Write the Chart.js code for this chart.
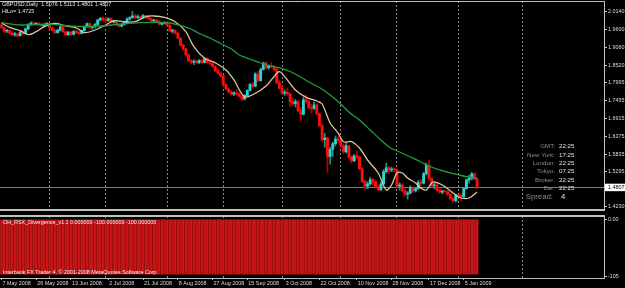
<!DOCTYPE html>
<html><head><meta charset="utf-8">
<script src="https://cdn.jsdelivr.net/npm/chart.js@4.4.0/dist/chart.umd.min.js"></script>
<style>
html,body{margin:0;padding:0;background:#000;width:625px;height:288px;overflow:hidden}
#a{position:absolute;left:0;top:0}
#b{position:absolute;left:0;top:213px}
</style></head><body>
<canvas id="a" width="625" height="212"></canvas>
<canvas id="b" width="625" height="75"></canvas>
<script>
// ---------- DATA ----------
const opens = [1.9740,1.9670,1.9560,1.9580,1.9500,1.9450,1.9480,1.9420,1.9530,1.9480,1.9630,1.9760,1.9800,1.9770,1.9790,1.9760,1.9720,1.9770,
1.9790,1.9660,1.9580,1.9510,1.9590,1.9690,1.9540,1.9450,1.9530,1.9460,1.9550,1.9510,1.9490,1.9580,1.9700,1.9790,1.9670,1.9690,1.9760,1.9900,1.9950,
1.9910,1.9880,1.9940,1.9830,1.9840,1.9760,1.9710,1.9770,1.9830,1.9930,1.9970,2.0020,1.9970,2.0000,1.9960,2.0030,1.9990,1.9940,1.9870,1.9890,1.9850,1.9770,1.9800,
1.9820,1.9740,1.9560,1.9580,1.9500,1.9350,1.9140,1.9020,1.8840,1.8660,1.8620,1.8650,1.8600,1.8670,1.8610,1.8730,1.8610,1.8580,1.8490,1.8360,1.8280,
1.8200,1.7940,1.7810,1.7720,1.7650,1.7690,1.7650,1.7580,1.7500,1.7610,1.7760,1.7940,1.7890,1.8260,1.8060,1.8400,1.8590,1.8450,1.8510,1.8480,1.8400,1.8000,
1.7830,1.7680,1.7700,1.7660,1.7420,1.7360,1.7420,1.7150,1.7040,1.7480,1.7420,1.7250,1.7220,1.7320,1.7060,1.6700,1.6270,1.6320,1.5760,1.5980,1.6150,1.6290,1.6250,
1.6080,1.5900,1.6090,1.5750,1.5630,1.5780,1.5750,1.5390,1.5000,1.4860,1.4930,1.5060,1.4990,1.4840,1.4760,1.4930,1.5300,1.5420,1.5350,1.5380,
1.5360,1.4860,1.4900,1.4720,1.4620,1.4650,1.4820,1.4720,1.4790,1.4980,1.4950,1.5240,1.5490,1.5090,1.4870,1.4900,1.4730,1.4680,1.4700,1.4690,1.4610,1.4490,1.4420,
1.4590,1.4580,1.4540,1.4790,1.5050,1.5100,1.5230,1.5076];
const highs = [1.9770,1.9690,1.9610,1.9600,1.9540,1.9520,1.9500,1.9560,1.9580,1.9660,1.9790,1.9850,1.9860,1.9820,1.9830,1.9800,1.9790,1.9820,
1.9800,1.9690,1.9620,1.9620,1.9720,1.9700,1.9560,1.9560,1.9560,1.9580,1.9600,1.9560,1.9600,1.9720,1.9810,1.9810,1.9720,1.9800,1.9920,1.9980,1.9990,
1.9950,1.9970,1.9960,1.9870,1.9860,1.9780,1.9800,1.9860,1.9960,2.0000,2.0158,2.0080,2.0060,2.0030,2.0070,2.0040,2.0050,1.9960,1.9920,1.9930,1.9880,1.9820,1.9850,
1.9860,1.9760,1.9620,1.9600,1.9520,1.9370,1.9160,1.9040,1.8880,1.8700,1.8700,1.8690,1.8700,1.8690,1.8760,1.8750,1.8640,1.8600,1.8510,1.8420,1.8320,
1.8220,1.7960,1.7840,1.7760,1.7720,1.7790,1.7700,1.7620,1.7640,1.7790,1.7980,1.8010,1.8300,1.8340,1.8450,1.8620,1.8640,1.8540,1.8600,1.8520,1.8430,1.8080,
1.7900,1.7780,1.7830,1.7680,1.7550,1.7490,1.7460,1.7250,1.7560,1.7620,1.7480,1.7340,1.7420,1.7360,1.7080,1.6740,1.6460,1.6350,1.6050,1.6200,1.6380,1.6380,1.6280,
1.6140,1.6180,1.6100,1.5790,1.5820,1.5920,1.5780,1.5420,1.5060,1.5000,1.5130,1.5090,1.5050,1.4900,1.5000,1.5370,1.5560,1.5460,1.5440,1.5420,
1.5380,1.4970,1.4940,1.4780,1.4700,1.4880,1.4850,1.4830,1.5040,1.5060,1.5280,1.5560,1.5640,1.5130,1.4950,1.4930,1.4780,1.4750,1.4720,1.4720,1.4640,1.4530,1.4620,
1.4610,1.4650,1.4830,1.5080,1.5200,1.5280,1.5270,1.5113];
const lows = [1.9640,1.9520,1.9510,1.9470,1.9420,1.9400,1.9380,1.9410,1.9450,1.9470,1.9600,1.9730,1.9740,1.9750,1.9730,1.9690,1.9680,1.9740,
1.9640,1.9560,1.9480,1.9500,1.9560,1.9520,1.9430,1.9430,1.9420,1.9440,1.9480,1.9460,1.9470,1.9560,1.9680,1.9640,1.9610,1.9660,1.9740,1.9880,1.9880,
1.9830,1.9860,1.9800,1.9800,1.9730,1.9680,1.9690,1.9740,1.9810,1.9890,1.9950,1.9940,1.9930,1.9920,1.9940,1.9940,1.9920,1.9840,1.9850,1.9820,1.9740,1.9740,1.9770,
1.9720,1.9540,1.9500,1.9470,1.9320,1.9100,1.8990,1.8800,1.8620,1.8560,1.8540,1.8570,1.8580,1.8580,1.8590,1.8590,1.8540,1.8460,1.8330,1.8250,1.8170,
1.7900,1.7780,1.7690,1.7620,1.7600,1.7620,1.7560,1.7460,1.7470,1.7590,1.7740,1.7830,1.7870,1.8020,1.8040,1.8380,1.8410,1.8400,1.8450,1.8350,1.7960,1.7800,
1.7650,1.7610,1.7620,1.7280,1.7300,1.7260,1.7110,1.6850,1.7020,1.7380,1.7200,1.7080,1.7180,1.7010,1.6660,1.6220,1.6040,1.5280,1.5530,1.5760,1.6080,1.6180,1.6030,
1.5850,1.5870,1.5700,1.5560,1.5600,1.5700,1.5360,1.4960,1.4750,1.4780,1.4880,1.4890,1.4800,1.4722,1.4720,1.4900,1.5250,1.5250,1.5300,1.5300,
1.4820,1.4740,1.4680,1.4560,1.4470,1.4620,1.4660,1.4680,1.4760,1.4880,1.4930,1.5200,1.5040,1.4830,1.4780,1.4700,1.4640,1.4620,1.4660,1.4580,1.4450,1.4350,1.4380,
1.4550,1.4400,1.4500,1.4760,1.4950,1.5050,1.5050,1.4801];
const closes = [1.9670,1.9560,1.9580,1.9500,1.9450,1.9480,1.9420,1.9530,1.9480,1.9630,1.9760,1.9800,1.9770,1.9790,1.9760,1.9720,1.9770,1.9790,
1.9660,1.9580,1.9510,1.9590,1.9690,1.9540,1.9450,1.9530,1.9460,1.9550,1.9510,1.9490,1.9580,1.9700,1.9790,1.9670,1.9690,1.9760,1.9900,1.9950,1.9910,
1.9880,1.9940,1.9830,1.9840,1.9760,1.9710,1.9770,1.9830,1.9930,1.9970,2.0020,1.9970,2.0000,1.9960,2.0030,1.9990,1.9940,1.9870,1.9890,1.9850,1.9770,1.9800,1.9820,
1.9740,1.9560,1.9580,1.9500,1.9350,1.9140,1.9020,1.8840,1.8660,1.8620,1.8650,1.8600,1.8670,1.8610,1.8730,1.8610,1.8580,1.8490,1.8360,1.8280,1.8200,
1.7940,1.7810,1.7720,1.7650,1.7690,1.7650,1.7580,1.7500,1.7610,1.7760,1.7940,1.7890,1.8260,1.8060,1.8400,1.8590,1.8450,1.8510,1.8480,1.8400,1.8000,1.7830,
1.7680,1.7700,1.7660,1.7420,1.7360,1.7420,1.7150,1.7040,1.7480,1.7420,1.7250,1.7220,1.7320,1.7060,1.6700,1.6270,1.6320,1.5760,1.5980,1.6150,1.6290,1.6250,1.6080,
1.5900,1.6090,1.5750,1.5630,1.5780,1.5750,1.5390,1.5000,1.4860,1.4930,1.5060,1.4990,1.4840,1.4760,1.4930,1.5300,1.5420,1.5350,1.5380,1.5360,
1.4860,1.4900,1.4720,1.4620,1.4650,1.4820,1.4720,1.4790,1.4980,1.4950,1.5240,1.5490,1.5090,1.4870,1.4900,1.4730,1.4680,1.4700,1.4690,1.4610,1.4490,1.4420,1.4590,
1.4580,1.4540,1.4790,1.5050,1.5100,1.5230,1.5080,1.4807];

// slow moving average (green), sampled at bar indices
const maSlowIdx = [0,7,18,29,37,44,52,59,63,67,71,74,78,82,86,89,93,97,100,104,108,112,115,119,123,127,130,134,138,142,145,149,153,157,160,164,168,172,175,178];
const maSlowVal = [1.9816,1.9746,1.9767,1.9700,1.9716,1.9767,1.9816,1.9828,1.9807,1.9731,1.9625,1.9488,1.9352,1.9185,1.9018,1.8837,1.8715,1.8594,1.8518,1.8443,
1.8336,1.8170,1.8018,1.7851,1.7624,1.7351,1.7109,1.6866,1.6563,1.6260,1.6048,1.5896,1.5745,1.5593,1.5472,1.5351,1.5260,1.5184,1.5138,1.5108];
// fast moving average (tan), sampled at bar indices
const maFastIdx = [0,3,7,10,13,16,20,24,28,31,35,39,42,46,50,54,57,61,65,69,72,76,80,84,87,91,95,99,102,104,106,110,114,118,120,123,126,128,131,134,137,141,144,146,148,150,152,155,157,159,161,162,165,169,172,175,178];
const maFastVal = [1.9807,1.9676,1.9573,1.9452,1.9543,1.9694,1.9797,1.9716,1.9655,1.9513,1.9594,1.9746,1.9876,1.9846,1.9846,1.9998,2.0019,1.9979,1.9846,1.9543,
1.9088,1.8737,1.8603,1.8382,1.8079,1.7573,1.7676,1.7897,1.8179,1.8330,1.8179,1.7776,1.7554,1.7442,1.7351,1.6776,1.6472,1.6209,1.6209,1.6018,
1.5654,1.5260,1.4744,1.4896,1.5260,1.5260,1.5108,1.4957,1.4800,1.4745,1.4957,1.4987,1.4896,1.4654,1.4502,1.4502,1.4684];

// indicator histogram (OH_RSX_Divergence), one value per bar
const rsxHist = [-100,-100,-100,-100,-100,-100,-100,-100,-100,-100,-100,-100,-100,-100,-100,-100,-100,-100,-100,-100,
-100,-100,-100,-100,-100,-100,-100,-100,-100,-100,-100,-100,-100,-100,-100,-100,-100,-100,-100,-100,
-100,-100,-100,-100,-100,-100,-100,-100,-100,-100,-100,-100,-100,-100,-100,-100,-100,-100,-100,-100,
-100,-100,-100,-100,-100,-100,-100,-100,-100,-100,-100,-100,-100,-100,-100,-100,-100,-100,-100,-100,
-100,-100,-100,-100,-100,-100,-100,-100,-100,-100,-100,-100,-100,-100,-100,-100,-100,-100,-100,-100,
-100,-100,-100,-100,-100,-100,-100,-100,-100,-100,-100,-100,-100,-100,-100,-100,-100,-100,-100,-100,
-100,-100,-100,-100,-100,-100,-100,-100,-100,-100,-100,-100,-100,-100,-100,-100,-100,-100,-100,-100,
-100,-100,-100,-100,-100,-100,-100,-100,-100,-100,-100,-100,-100,-100,-100,-100,-100,-100,-100,-100,
-100,-100,-100,-100,-100,-100,-100,-100,-100,-100,-100,-100,-100,-100,-100,-100,-100,-100,-100];

// axis ticks and labels
const priceTicks = [1.4230,1.5295,1.5835,1.6375,1.6915,1.7455,1.7995,1.8520,1.9060,1.9600,2.0140];
const lastPrice = 1.4807;
const dateTickIdx = [0,13,26,40,53,66,79,92,106,119,133,146,160,173];
const dateTickLabels = ['7 May 2008','26 May 2008','13 Jun 2008','2 Jul 2008','21 Jul 2008','8 Aug 2008','27 Aug 2008','15 Sep 2008','3 Oct 2008','22 Oct 2008','10 Nov 2008','28 Nov 2008','17 Dec 2008','5 Jan 2009'];
const monthGridIdx = [18,39,62,83,105,127,148,171,195];
const indTicks = [-105,0];

// texts
const headerLine1 = 'GBPUSD,Daily  1.5076 1.5113 1.4801 1.4807';
const headerLine2 = 'HiLo= 1.4725';
const infoLabels = ['GMT:','New York:','London:','Tokyo:','Broker:','Bar:'];
const infoValues = ['22:25','17:25','22:25','07:25','22:25','22:25'];
const spreadLabel = 'Spread:';
const spreadValue = '4';
const indTitle = 'OH_RSX_Divergence_v1.1 0.000000 -100.000000 -100.000000';
const copyright = 'Interbank FX Trader 4, \u00A9 2001-2008 MetaQuotes Software Corp.';

// ---------- CHART ----------
const FONT = "'Liberation Sans', Arial, sans-serif";
const X_MIN = -0.56, X_MAX = 225.5;
const idx = closes.map((_, i) => i);
const isUp = i => closes[i] >= opens[i];
const UP_BODY = '#2fd2cf', UP_WICK = '#1f8f95', DN_BODY = '#ff0c0c', DN_WICK = '#c00000';
const AXIS = '#c0c0c0';

function xAxes(withLabels) {
  return {
    x: {
      type: 'linear', position: 'bottom', min: X_MIN, max: X_MAX, offset: false,
      afterBuildTicks: s => { s.ticks = dateTickIdx.map(v => ({ value: v })); },
      ticks: {
        display: withLabels, autoSkip: false, maxRotation: 0, minRotation: 0, align: 'start',
        labelOffset: 1, padding: 0, color: '#dcdcdc', font: { family: FONT, size: 5.4 },
        callback: v => dateTickLabels[dateTickIdx.indexOf(v)]
      },
      grid: { offset: false, drawOnChartArea: false, drawTicks: withLabels, tickLength: 2, tickColor: AXIS },
      border: { color: AXIS, width: withLabels ? 1 : 2 },
      afterFit: s => { s.height = withLabels ? 10 : 0; s.paddingLeft = 0; s.paddingRight = 0; }
    },
    xg: {
      type: 'linear', position: 'bottom', min: X_MIN, max: X_MAX, offset: false,
      afterBuildTicks: s => { s.ticks = monthGridIdx.map(v => ({ value: v })); },
      ticks: { display: false },
      grid: { offset: false, color: '#8a8a8a', lineWidth: 1, drawTicks: false },
      border: { display: false, dash: [2, 2] },
      afterFit: s => { s.height = 0; s.paddingLeft = 0; s.paddingRight = 0; }
    },
    xt: {
      type: 'linear', position: 'top', min: X_MIN, max: X_MAX, offset: false,
      ticks: { display: false }, grid: { display: false, drawTicks: false },
      border: { color: AXIS, width: withLabels ? 2 : 1 },
      afterFit: s => { s.height = 0; s.paddingLeft = 0; s.paddingRight = 0; }
    }
  };
}

const overlayA = {
  id: 'overlayA',
  afterDraw(chart) {
    const c = chart.ctx;
    c.save();
    c.textBaseline = 'middle';
    c.textAlign = 'left';
    c.fillStyle = '#e6e6e6';
    c.font = '5.4px ' + FONT;
    c.fillText(headerLine1, 2, 5);
    c.fillText(headerLine2, 2, 11.5);
    c.font = '6.2px ' + FONT;
    infoLabels.forEach((t, k) => {
      const y = 146.7 + k * 8.3;
      c.textAlign = 'right'; c.fillStyle = '#8c8c8c'; c.fillText(t, 555, y);
      c.textAlign = 'left'; c.fillStyle = '#e0e0e0'; c.fillText(infoValues[k], 559, y);
    });
    c.font = '7.8px ' + FONT;
    c.textAlign = 'right'; c.fillStyle = '#8c8c8c'; c.fillText(spreadLabel, 553, 196.7);
    c.textAlign = 'left'; c.fillStyle = '#e0e0e0'; c.fillText(spreadValue, 561, 196.7);
    c.restore();
  }
};

new Chart(document.getElementById('a'), {
  type: 'bar',
  data: {
    datasets: [
      { type: 'line', data: maSlowIdx.map((x, k) => ({ x, y: maSlowVal[k] })), borderColor: '#259a3b', borderWidth: 1.3,
        pointRadius: 0, cubicInterpolationMode: 'monotone', order: 0, xAxisID: 'x', yAxisID: 'y' },
      { type: 'line', data: maFastIdx.map((x, k) => ({ x, y: maFastVal[k] })), borderColor: '#d8c798', borderWidth: 1.3,
        pointRadius: 0, tension: 0.35, order: 0, xAxisID: 'x', yAxisID: 'y' },
      { type: 'bar', data: idx.map(i => ({ x: i, y: [lows[i], highs[i]] })), backgroundColor: idx.map(i => isUp(i) ? UP_WICK : DN_WICK),
        barThickness: 1, grouped: false, order: 2, xAxisID: 'x', yAxisID: 'y' },
      { type: 'bar', data: idx.map(i => ({ x: i, y: [opens[i], closes[i]] })), backgroundColor: idx.map(i => isUp(i) ? UP_BODY : DN_BODY),
        barThickness: 2.2, minBarLength: 1, grouped: false, order: 1, xAxisID: 'x', yAxisID: 'y' }
    ]
  },
  options: {
    responsive: false, animation: false, devicePixelRatio: 1, events: [],
    layout: { padding: { left: 0, right: 0, top: 1, bottom: 2 }, autoPadding: false },
    plugins: { legend: { display: false }, tooltip: { enabled: false } },
    scales: Object.assign(xAxes(false), {
      y: {
        type: 'linear', position: 'right', min: 1.41382, max: 2.04734,
        afterBuildTicks: s => { s.ticks = priceTicks.concat([lastPrice]).sort((a, b) => a - b).map(v => ({ value: v })); },
        ticks: {
          autoSkip: false, padding: 1, font: { family: FONT, size: 5.4 },
          color: c => c.tick.value === lastPrice ? '#000000' : '#dcdcdc',
          showLabelBackdrop: true,
          backdropColor: c => c.tick.value === lastPrice ? '#ffffff' : 'rgba(0,0,0,0)',
          backdropPadding: { top: 1, bottom: 0, left: 3, right: 3 },
          callback: v => v.toFixed(4)
        },
        grid: { color: c => (c.tick && c.tick.value === lastPrice) ? '#6e7f90' : 'rgba(0,0,0,0)', tickColor: AXIS, tickLength: 3 },
        border: { color: AXIS },
        afterFit: s => { s.width = 21; s.paddingTop = 0; s.paddingBottom = 0; }
      }
    })
  },
  plugins: [overlayA]
});

const overlayB = {
  id: 'overlayB',
  afterDraw(chart) {
    const c = chart.ctx;
    c.save();
    c.textBaseline = 'middle'; c.textAlign = 'left';
    c.fillStyle = '#f0f0f0';
    c.font = '5.4px ' + FONT;
    c.fillText(indTitle, 3, 10);
    c.fillText(copyright, 3, 59.5);
    c.restore();
  }
};

new Chart(document.getElementById('b'), {
  type: 'bar',
  data: {
    datasets: [
      { type: 'bar', data: idx.map(i => ({ x: i, y: rsxHist[i] })), backgroundColor: '#c41616', barThickness: 2, grouped: false,
        xAxisID: 'x', yAxisID: 'y' }
    ]
  },
  options: {
    responsive: false, animation: false, devicePixelRatio: 1, events: [],
    layout: { padding: { left: 0, right: 0, top: 3, bottom: 0 }, autoPadding: false },
    plugins: { legend: { display: false }, tooltip: { enabled: false } },
    scales: Object.assign(xAxes(true), {
      y: {
        type: 'linear', position: 'right', min: -107, max: 6,
        afterBuildTicks: s => { s.ticks = indTicks.map(v => ({ value: v })); },
        ticks: { autoSkip: false, padding: 1, font: { family: FONT, size: 5.4 }, color: '#dcdcdc',
          callback: v => v === 0 ? '0.00' : String(v) },
        grid: { drawOnChartArea: false, tickColor: AXIS, tickLength: 3 },
        border: { color: AXIS },
        afterFit: s => { s.width = 21; s.paddingTop = 0; s.paddingBottom = 0; }
      }
    })
  },
  plugins: [overlayB]
});
</script>
</body></html>
